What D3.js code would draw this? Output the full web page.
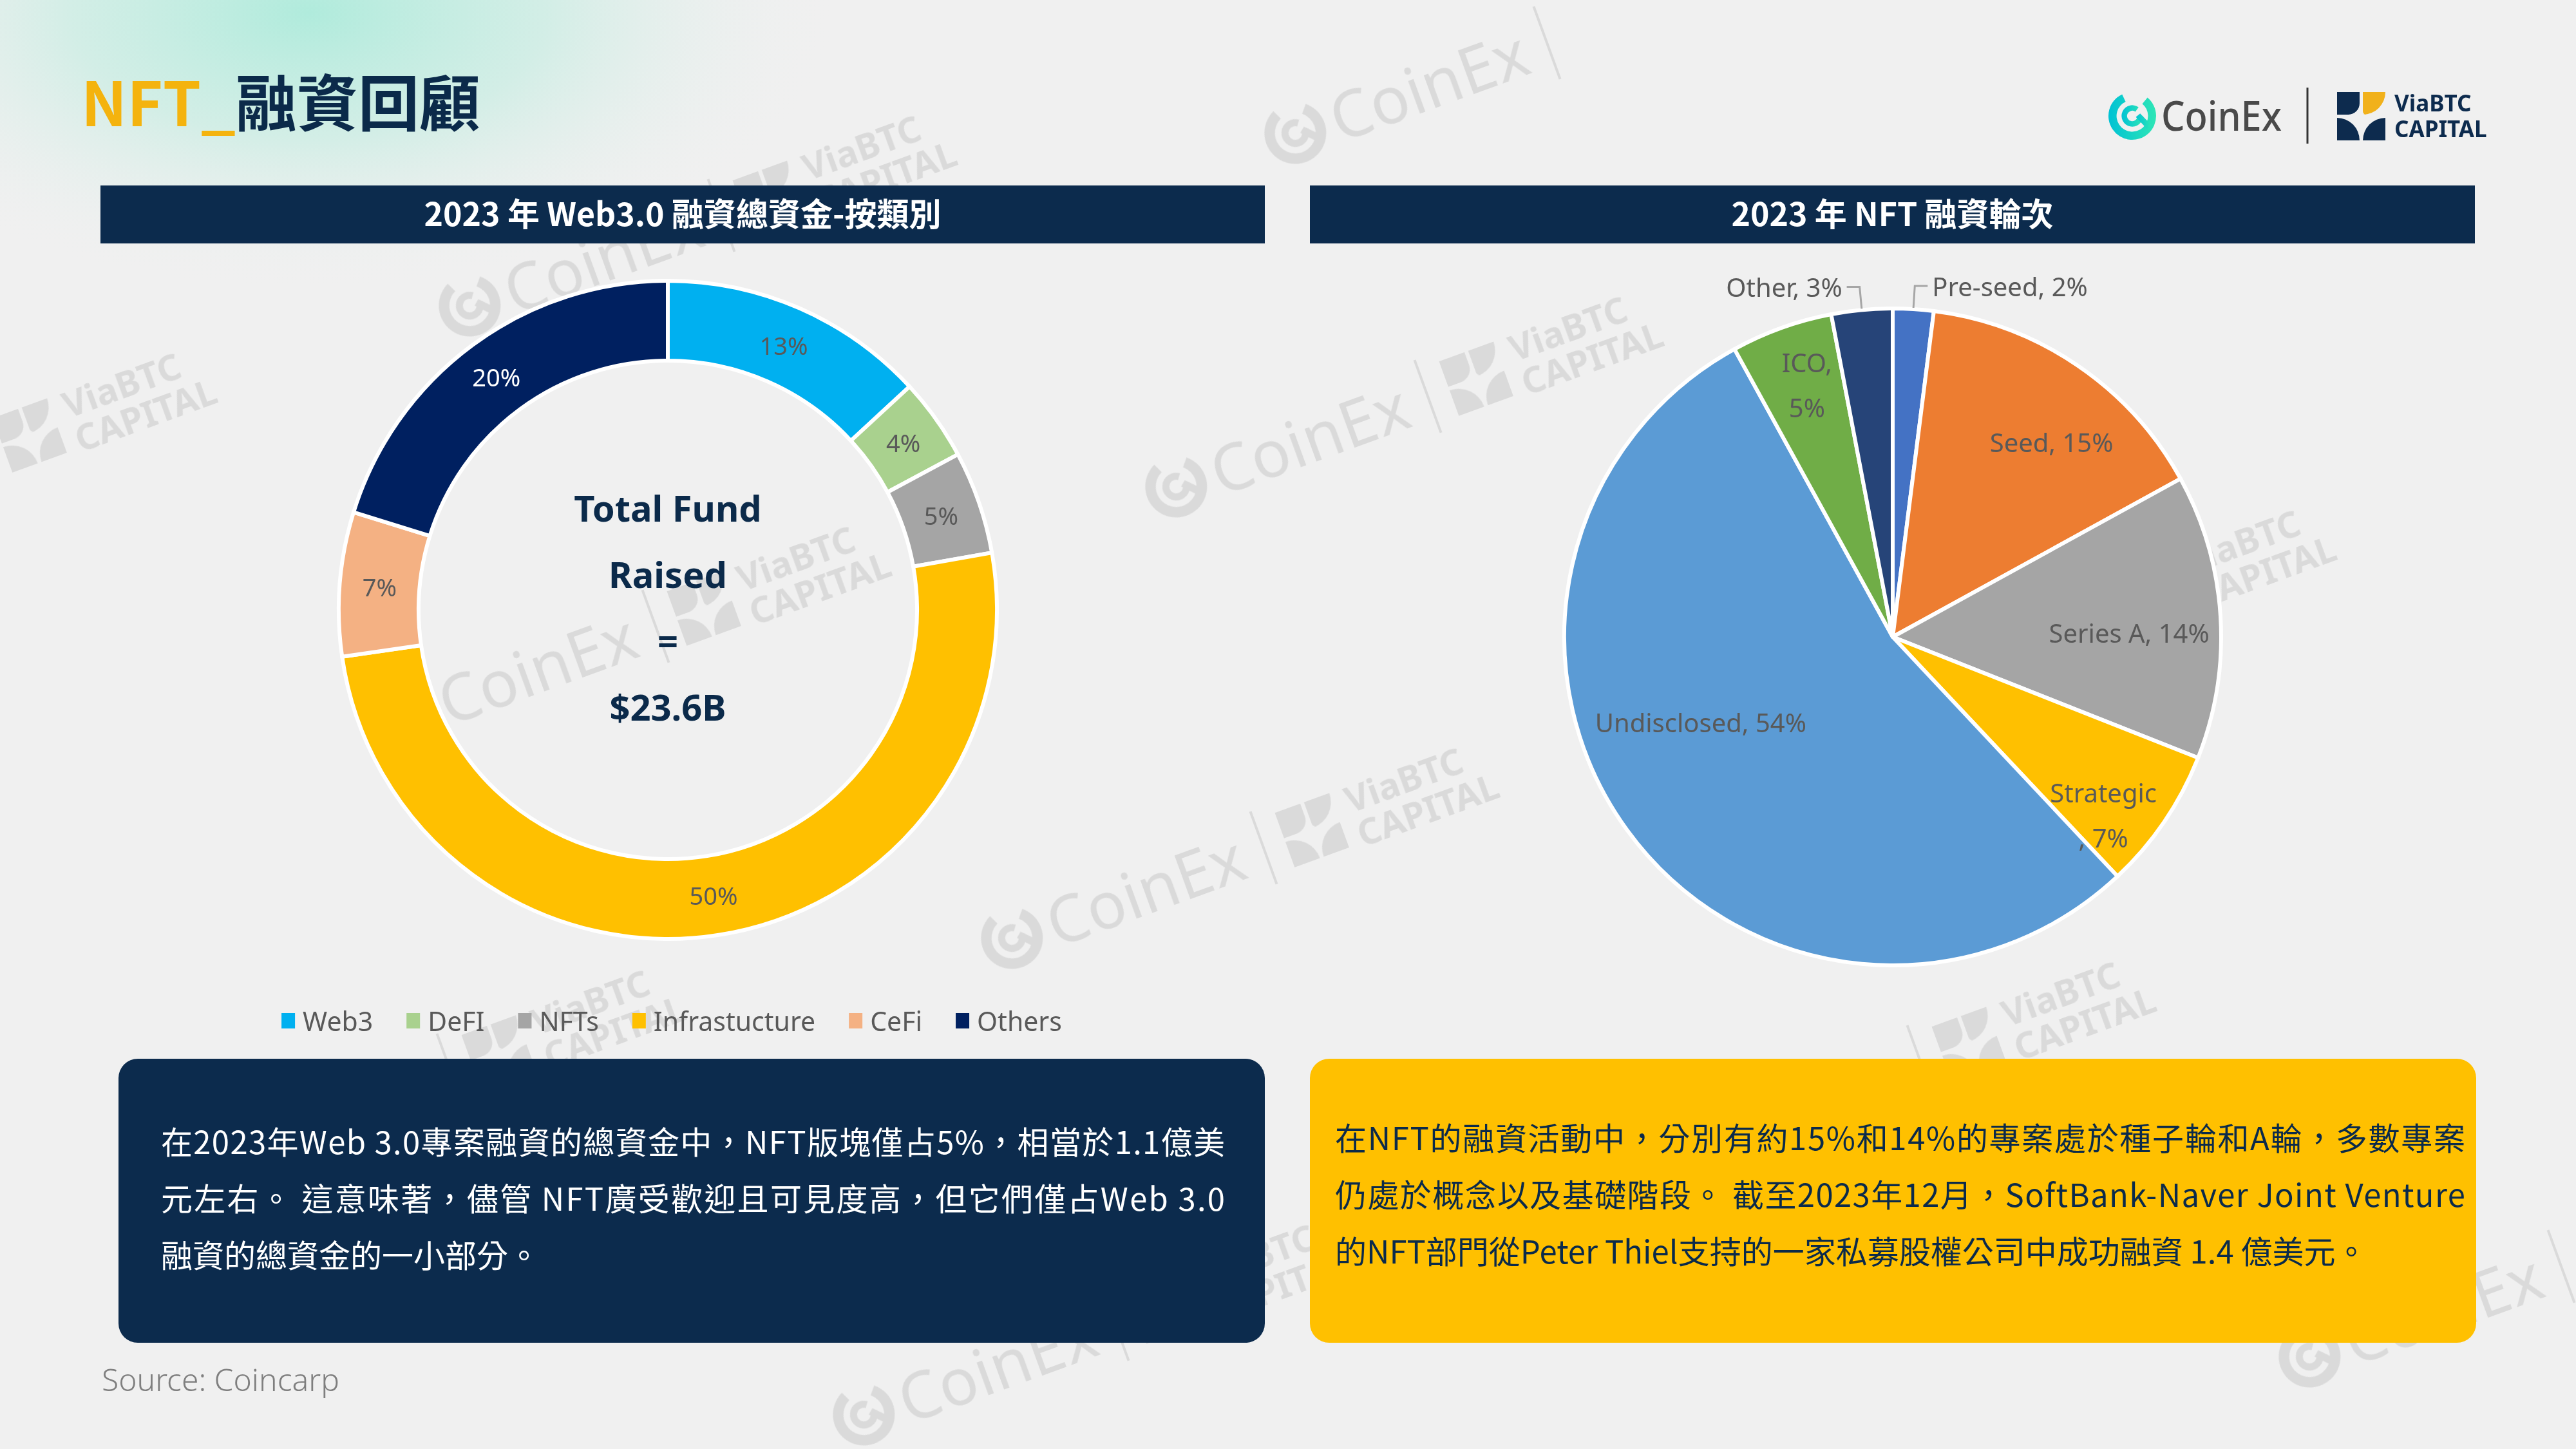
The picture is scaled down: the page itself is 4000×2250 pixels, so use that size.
<!DOCTYPE html>
<html>
<head>
<meta charset="utf-8">
<script src="https://cdn.jsdelivr.net/npm/d3@7"></script>
<style>
html, body {margin: 0; padding: 0; background: #f0f0f0;}
svg {display: block;}
</style>
</head>
<body>
<svg id="chart" width="4000" height="2250"></svg>
<script>
// ---- data ----
var donutCategories = ["Web3", "DeFI", "NFTs", "Infrastucture", "CeFi", "Others"];
var donutValues = [13, 4, 5, 50, 7, 20];
var donutColors = ["#00b0f0", "#a9d18e", "#a5a5a5", "#ffc000", "#f4b183", "#002060"];
var donutCenterLines = ["Total Fund", "Raised", "=", "$23.6B"];

var pieCategories = ["Pre-seed", "Seed", "Series A", "Strategic", "Undisclosed", "ICO", "Other"];
var pieValues = [2, 15, 14, 7, 54, 5, 3];
var pieColors = ["#4472c4", "#ed7d31", "#a5a5a5", "#ffc000", "#5b9bd5", "#70ad47", "#264478"];

var pageTitleA = "NFT_";
var pageTitleB = "融資回顧";
var leftTitle = "2023 年 Web3.0 融資總資金-按類別";
var rightTitle = "2023 年 NFT 融資輪次";
var leftNoteLines = [
    "在2023年Web 3.0專案融資的總資金中，NFT版塊僅占5%，相當於1.1億美",
    "元左右。 這意味著，儘管 NFT廣受歡迎且可見度高，但它們僅占Web 3.0",
    "融資的總資金的一小部分。"
];
var rightNoteLines = [
    "在NFT的融資活動中，分別有約15%和14%的專案處於種子輪和A輪，多數專案",
    "仍處於概念以及基礎階段。 截至2023年12月，SoftBank-Naver Joint Venture",
    "的NFT部門從Peter Thiel支持的一家私募股權公司中成功融資 1.4 億美元。"
];
var sourceText = "Source: Coincarp";

// ---- styles ----
var navy = "#0c2b4d"
    , labelGrey = "#595959"
    , wmGrey = "#c9c9c9"
    , cjk = "'Noto Sans CJK TC', 'Noto Sans', sans-serif"
    , latin = "'Noto Sans', 'Noto Sans CJK TC', sans-serif";

// label placement for the pie (radius as share of R, angle nudge in degrees)
var pieLabelStyle = {
    "Pre-seed": {outside: true},
    "Seed": {r: 0.765, da: 5},
    "Series A": {r: 0.72, da: 2.6},
    "Strategic": {r: 0.84, da: 6, wrap: "before"},
    "Undisclosed": {r: 0.64, da: 12},
    "ICO": {r: 0.81, da: 1, wrap: "after"},
    "Other": {outside: true}
};

var svg = d3.select("#chart");
var defs = svg.append("defs");

var mint = defs.append("radialGradient").attr("id", "mint");
mint.append("stop").attr("offset", "0%").attr("stop-color", "#b0ebdc").attr("stop-opacity", 1);
mint.append("stop").attr("offset", "45%").attr("stop-color", "#c6ede2").attr("stop-opacity", 0.7);
mint.append("stop").attr("offset", "100%").attr("stop-color", "#f0f0f0").attr("stop-opacity", 0);

var cg = defs.append("linearGradient").attr("id", "coinexGrad")
    .attr("x1", "0%").attr("x2", "100%").attr("y1", "0%").attr("y2", "0%");
cg.append("stop").attr("offset", "0%").attr("stop-color", "#00c2d4");
cg.append("stop").attr("offset", "100%").attr("stop-color", "#2ee6b6");

// background
svg.append("rect").attr("width", 4000).attr("height", 2250).attr("fill", "#f0f0f0");
svg.append("ellipse")
    .attr("cx", 480).attr("cy", 20).attr("rx", 820).attr("ry", 430)
    .attr("fill", "url(#mint)");

// ---- helpers ----
function roundPath(x, y, w, h, r) {
    // r = [tl, tr, br, bl]
    return "M" + (x + r[0]) + "," + y
        + " H" + (x + w - r[1]) + (r[1] ? " A" + r[1] + "," + r[1] + " 0 0 1 " + (x + w) + "," + (y + r[1]) : "")
        + " V" + (y + h - r[2]) + (r[2] ? " A" + r[2] + "," + r[2] + " 0 0 1 " + (x + w - r[2]) + "," + (y + h) : "")
        + " H" + (x + r[3]) + (r[3] ? " A" + r[3] + "," + r[3] + " 0 0 1 " + x + "," + (y + h - r[3]) : "")
        + " V" + (y + r[0]) + (r[0] ? " A" + r[0] + "," + r[0] + " 0 0 1 " + (x + r[0]) + "," + y : "")
        + " Z";
}

function viaIcon(g, x, y, s, cNavy, cYellow) {
    var b = s * 0.466, gap = s - 2 * b;
    g.append("path").attr("d", roundPath(x, y, b, b, [0, 0, b * 0.5, 0])).attr("fill", cNavy);
    g.append("path").attr("d", roundPath(x + b + gap, y, b, b, [0, 0, b, b * 0.15])).attr("fill", cYellow);
    g.append("path").attr("d", roundPath(x, y + b + gap, b, b, [0, b, 0, 0])).attr("fill", cNavy);
    g.append("path").attr("d", roundPath(x + b + gap, y + b + gap, b, b, [b, 0, 0, 0])).attr("fill", cNavy);
}

function coinIcon(g, cx, cy, r, fill) {
    var outer = d3.arc().innerRadius(r * 0.66).outerRadius(r)
        .startAngle(Math.PI * 0.22).endAngle(Math.PI * 1.86);
    var inner = d3.arc().innerRadius(r * 0.22).outerRadius(r * 0.45)
        .startAngle(Math.PI * 0.5).endAngle(Math.PI * 2.2);
    var ig = g.append("g").attr("transform", "translate(" + cx + "," + cy + ")");
    ig.append("path").attr("d", outer()).attr("fill", fill);
    ig.append("path").attr("d", inner()).attr("fill", fill);
    ig.append("path")
        .attr("d", "M" + (r * 0.15) + "," + (r * 0.05) + " L" + (r * 0.62) + "," + (r * 0.55)
            + " L" + (r * 0.8) + "," + (r * 0.38) + " L" + (r * 0.33) + "," + (-r * 0.1) + " Z")
        .attr("fill", fill);
}

// ---- watermarks (CoinEx | ViaBTC CAPITAL) ----
var wmAnchors = [
    [2200, 140, "coin"], [918, 408, "both"], [2015, 689, "both"], [816, 1046, "both"],
    [1760, 1390, "both"], [1530, 2130, "both"], [3060, 1021, "both"], [2780, 1722, "both"],
    [497, 1735, "both"], [3775, 2040, "coin"], [-231, 777, "via"]
];
var wm = svg.append("g").attr("class", "watermarks").attr("opacity", 0.55);
wmAnchors.forEach(function(p) {
    var g = wm.append("g").attr("transform", "translate(" + p[0] + "," + p[1] + ") rotate(-20)");
    if (p[2] !== "via") {
        coinIcon(g, -200, -2, 48, wmGrey);
        g.append("text").attr("x", -140).attr("y", 36)
            .attr("font-family", latin).attr("font-size", 100).attr("fill", wmGrey)
            .text("CoinEx");
        g.append("line").attr("x1", 215).attr("x2", 215).attr("y1", -60).attr("y2", 60)
            .attr("stroke", wmGrey).attr("stroke-width", 4);
    }
    if (p[2] !== "coin") {
        viaIcon(g, 250, -45, 90, wmGrey, wmGrey);
        g.append("text").attr("x", 360).attr("y", -4)
            .attr("font-family", latin).attr("font-weight", 700).attr("font-size", 56).attr("fill", wmGrey)
            .text("ViaBTC");
        g.append("text").attr("x", 360).attr("y", 52)
            .attr("font-family", latin).attr("font-weight", 700).attr("font-size", 56).attr("fill", wmGrey)
            .text("CAPITAL");
    }
});

// ---- page title ----
var title = svg.append("text")
    .attr("x", 126).attr("y", 196)
    .attr("font-family", cjk).attr("font-weight", 700).attr("font-size", 95);
title.append("tspan").attr("fill", "#f4b30e").text(pageTitleA);
title.append("tspan").attr("fill", "#0b2a4a").text(pageTitleB);

// ---- logos ----
var logo = svg.append("g").attr("class", "logo");
coinIcon(logo, 3311, 180, 37, "url(#coinexGrad)");
logo.append("text").attr("x", 3356).attr("y", 203)
    .attr("font-family", latin).attr("font-weight", 500).attr("font-size", 64).attr("fill", "#4a4a4a")
    .attr("textLength", 187).attr("lengthAdjust", "spacingAndGlyphs")
    .text("CoinEx");
logo.append("line").attr("x1", 3583).attr("x2", 3583).attr("y1", 136).attr("y2", 223)
    .attr("stroke", "#333").attr("stroke-width", 3);
viaIcon(logo, 3629, 143, 75, "#0d2b4e", "#f1b11b");
logo.append("text").attr("x", 3718).attr("y", 173)
    .attr("font-family", latin).attr("font-weight", 700).attr("font-size", 35).attr("fill", "#0d2b4e")
    .text("ViaBTC");
logo.append("text").attr("x", 3718).attr("y", 213)
    .attr("font-family", latin).attr("font-weight", 700).attr("font-size", 35).attr("fill", "#0d2b4e")
    .text("CAPITAL");

// ---- panel title bars ----
function titleBar(x0, x1, label) {
    svg.append("rect").attr("x", x0).attr("y", 288).attr("width", x1 - x0).attr("height", 90)
        .attr("fill", navy);
    svg.append("text").attr("x", (x0 + x1) / 2).attr("y", 329)
        .attr("text-anchor", "middle").attr("dominant-baseline", "central")
        .attr("font-family", cjk).attr("font-weight", 700).attr("font-size", 50).attr("fill", "#fff")
        .text(label);
}
titleBar(156, 1964, leftTitle);
titleBar(2034, 3843, rightTitle);

// ---- donut chart ----
var donutData = donutCategories.map(function(c, i) {
    return {name: c, value: donutValues[i], color: donutColors[i]};
});
var dCx = 1037, dCy = 947, dOuter = 511, dInner = 387;
var donutG = svg.append("g").attr("transform", "translate(" + dCx + "," + dCy + ")");
var donutPie = d3.pie().sort(null).value(function(d) { return d.value; });
var donutArc = d3.arc().innerRadius(dInner).outerRadius(dOuter);
var donutLabelArc = d3.arc().innerRadius((dInner + dOuter) / 2).outerRadius((dInner + dOuter) / 2);
var dArcs = donutPie(donutData);

donutG.selectAll("path.slice")
    .data(dArcs).enter()
    .append("path").attr("class", "slice")
    .attr("d", donutArc)
    .attr("fill", function(d) { return d.data.color; })
    .attr("stroke", "#fff").attr("stroke-width", 6).attr("stroke-linejoin", "round");

donutG.selectAll("text.pct")
    .data(dArcs).enter()
    .append("text").attr("class", "pct")
    .attr("transform", function(d) { return "translate(" + donutLabelArc.centroid(d) + ")"; })
    .attr("text-anchor", "middle").attr("dominant-baseline", "central")
    .attr("font-family", latin).attr("font-size", 38)
    .attr("fill", function(d) { return d3.hsl(d.data.color).l < 0.3 ? "#fff" : labelGrey; })
    .text(function(d) { return d.data.value + "%"; });

donutG.selectAll("text.center")
    .data(donutCenterLines).enter()
    .append("text").attr("class", "center")
    .attr("x", 0).attr("y", function(d, i) { return -137 + i * 103; })
    .attr("text-anchor", "middle")
    .attr("font-family", latin).attr("font-weight", 700).attr("font-size", 56).attr("fill", "#0b2a4a")
    .text(function(d) { return d; });

// legend
var legend = svg.append("g").attr("class", "legend");
var lx = 0;
donutData.forEach(function(d) {
    var item = legend.append("g").attr("transform", "translate(" + lx + ",0)");
    item.append("rect").attr("x", 0).attr("y", -12).attr("width", 21).attr("height", 24)
        .attr("fill", d.color);
    var t = item.append("text").attr("x", 33).attr("y", 0)
        .attr("dominant-baseline", "central")
        .attr("font-family", latin).attr("font-size", 41).attr("fill", labelGrey)
        .text(d.name);
    lx += 33 + t.node().getComputedTextLength() + 52;
});
legend.attr("transform", "translate(" + (1043 - (lx - 52) / 2) + ",1585)");

// ---- pie chart ----
var pieData = pieCategories.map(function(c, i) {
    return {name: c, value: pieValues[i], color: pieColors[i]};
});
var pCx = 2939, pCy = 989, pR = 510;
var pieG = svg.append("g").attr("transform", "translate(" + pCx + "," + pCy + ")");
var pieGen = d3.pie().sort(null).value(function(d) { return d.value; });
var pieArc = d3.arc().innerRadius(0).outerRadius(pR);
var pArcs = pieGen(pieData);

pieG.selectAll("path.slice")
    .data(pArcs).enter()
    .append("path").attr("class", "slice")
    .attr("d", pieArc)
    .attr("fill", function(d) { return d.data.color; })
    .attr("stroke", "#fff").attr("stroke-width", 6).attr("stroke-linejoin", "round");

function polar(r, a) {
    return [r * Math.sin(a), -r * Math.cos(a)];
}

pArcs.forEach(function(d) {
    var st = pieLabelStyle[d.data.name] || {r: 0.7, da: 0};
    var mid = (d.startAngle + d.endAngle) / 2;
    var pct = d.data.value + "%";
    if (st.outside) {
        var p0 = polar(pR + 2, mid), p1 = polar(pR + 36, mid);
        var side = p1[0] >= 0 ? 1 : -1;
        var p2 = [p1[0] + side * 20, p1[1]];
        pieG.append("path")
            .attr("d", d3.line()([p0, p1, p2]))
            .attr("fill", "none").attr("stroke", "#a6a6a6").attr("stroke-width", 3);
        pieG.append("text")
            .attr("x", p2[0] + side * 7).attr("y", p2[1])
            .attr("text-anchor", side > 0 ? "start" : "end").attr("dominant-baseline", "central")
            .attr("font-family", latin).attr("font-size", 40).attr("fill", labelGrey)
            .text(d.data.name + ", " + pct);
        return;
    }
    var pos = polar(pR * st.r, mid + st.da * Math.PI / 180);
    var lines = [d.data.name + ", " + pct];
    if (st.wrap === "after") lines = [d.data.name + ",", pct];
    if (st.wrap === "before") lines = [d.data.name, ", " + pct];
    var t = pieG.append("text")
        .attr("text-anchor", "middle")
        .attr("font-family", latin).attr("font-size", 40).attr("fill", labelGrey);
    lines.forEach(function(l, i) {
        t.append("tspan")
            .attr("x", pos[0])
            .attr("y", pos[1] + (i - (lines.length - 1) / 2) * 70)
            .attr("dominant-baseline", "central")
            .text(l);
    });
});

// ---- note boxes ----
function noteBox(x, y, w, h, fill, color, lines, tx, tw, baseline) {
    svg.append("rect").attr("x", x).attr("y", y).attr("width", w).attr("height", h)
        .attr("rx", 30).attr("ry", 30).attr("fill", fill);
    lines.forEach(function(l, i) {
        var t = svg.append("text")
            .attr("x", tx).attr("y", baseline + i * 88)
            .attr("font-family", cjk).attr("font-size", 49).attr("fill", color)
            .text(l);
        if (i < lines.length - 1) t.attr("textLength", tw).attr("lengthAdjust", "spacing");
    });
}
noteBox(184, 1644, 1780, 441, navy, "#fff", leftNoteLines, 250, 1652, 1792);
noteBox(2034, 1644, 1811, 441, "#ffc000", "#0b2a4a", rightNoteLines, 2073, 1755, 1786);

// ---- source ----
svg.append("text").attr("x", 158).attr("y", 2160)
    .attr("font-family", latin).attr("font-weight", 300).attr("font-size", 48).attr("fill", "#7f7f7f")
    .text(sourceText);
</script>
</body>
</html>
